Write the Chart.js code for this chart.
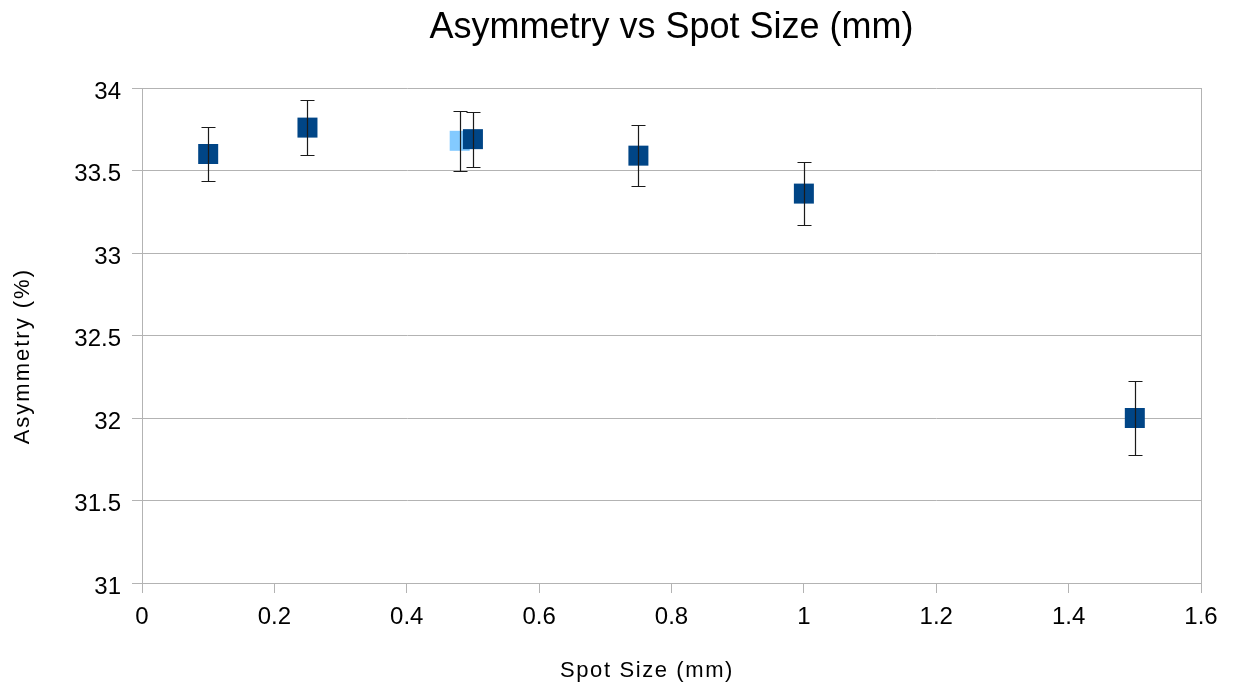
<!DOCTYPE html>
<html>
<head>
<meta charset="utf-8">
<script src="https://cdn.jsdelivr.net/npm/chart.js@4.4.1/dist/chart.umd.min.js"></script>
<style>
html,body{margin:0;padding:0;background:#fff;}
#wrap{width:1237px;height:683px;}
</style>
</head>
<body>
<div id="wrap"><canvas id="c" width="1237" height="683"></canvas></div>
<script>
// ---- data ----
const spotSizes = [0.1, 0.25, 0.5, 0.75, 1.0, 1.5];
const asymmetry = [33.60, 33.76, 33.69, 33.59, 33.36, 32.00];
const asymmetryErr = [0.165, 0.168, 0.167, 0.183, 0.193, 0.224];

const extraSpotSizes = [0.48];
const extraAsymmetry = [33.68];
const extraAsymmetryErr = [0.181];

const xTicks = [0, 0.2, 0.4, 0.6, 0.8, 1.0, 1.2, 1.4, 1.6];
const xTickLabels = ['0', '0.2', '0.4', '0.6', '0.8', '1', '1.2', '1.4', '1.6'];
const yTicks = [31, 31.5, 32, 32.5, 33, 33.5, 34];
const yTickLabels = ['31', '31.5', '32', '32.5', '33', '33.5', '34'];

const chartTitle = 'Asymmetry vs Spot Size (mm)';
const xTitle = 'Spot Size (mm)';
const yTitle = 'Asymmetry (%)';

// ---- build ----
const FONT = "'Liberation Sans', Arial, sans-serif";
const GRID = '#b3b3b3';

function pts(xs, ys, es) {
  return xs.map((x, i) => ({ x: x, y: ys[i], err: es[i] }));
}

const errorBars = {
  id: 'errorBars',
  afterDatasetsDraw(chart) {
    const { ctx, scales: { x, y } } = chart;
    ctx.save();
    ctx.strokeStyle = '#1a1a1a';
    ctx.lineWidth = 1.2;
    chart.data.datasets.forEach(ds => {
      ds.data.forEach(p => {
        const px = Math.round(x.getPixelForValue(p.x)) + 0.5;
        const yt = Math.round(y.getPixelForValue(p.y + p.err)) + 0.5;
        const yb = Math.round(y.getPixelForValue(p.y - p.err)) + 0.5;
        ctx.beginPath();
        ctx.moveTo(px, yt); ctx.lineTo(px, yb);
        ctx.moveTo(px - 7, yt); ctx.lineTo(px + 7, yt);
        ctx.moveTo(px - 7, yb); ctx.lineTo(px + 7, yb);
        ctx.stroke();
      });
    });
    ctx.restore();
  }
};

const axisTitles = {
  id: 'axisTitles',
  afterDraw(chart) {
    const { ctx, chartArea: ca } = chart;
    ctx.save();
    ctx.fillStyle = '#000';
    ctx.font = '22px ' + FONT;
    ctx.textAlign = 'center';
    ctx.textBaseline = 'middle';
    try { ctx.letterSpacing = '1.6px'; } catch (e) {}
    ctx.fillText(xTitle, (ca.left + ca.right) / 2 - 24.5, ca.bottom + 87.5);
    try { ctx.letterSpacing = '2px'; } catch (e) {}
    ctx.translate(23, (ca.top + ca.bottom) / 2 + 20.7);
    ctx.rotate(-Math.PI / 2);
    ctx.fillText(yTitle, 0, 0);
    ctx.restore();
  }
};

Chart.defaults.font.family = FONT;
Chart.defaults.color = '#000';

new Chart(document.getElementById('c'), {
  type: 'scatter',
  data: {
    datasets: [
      {
        label: 'Asymmetry',
        data: pts(spotSizes, asymmetry, asymmetryErr),
        pointStyle: 'rect',
        pointRadius: 14.14,
        pointHoverRadius: 14.14,
        backgroundColor: '#004586',
        borderColor: '#004586',
        borderWidth: 0
      },
      {
        label: 'Asymmetry (2)',
        data: pts(extraSpotSizes, extraAsymmetry, extraAsymmetryErr),
        pointStyle: 'rect',
        pointRadius: 14.14,
        pointHoverRadius: 14.14,
        backgroundColor: '#83caff',
        borderColor: '#83caff',
        borderWidth: 0
      }
    ]
  },
  options: {
    responsive: false,
    animation: false,
    devicePixelRatio: 1,
    layout: { padding: { left: 0, right: 36, top: 0, bottom: 0 } },
    plugins: {
      legend: { display: false },
      tooltip: { enabled: false },
      title: {
        display: true,
        text: chartTitle,
        fullSize: false,
        color: '#000',
        font: { size: 36, weight: 'normal', family: FONT, lineHeight: 1 },
        padding: { top: 10.5, bottom: 41.5 }
      }
    },
    scales: {
      x: {
        type: 'linear',
        min: 0,
        max: 1.6,
        afterBuildTicks: s => { s.ticks = xTicks.map(v => ({ value: v })); },
        afterFit: s => { s.height = 100; },
        ticks: {
          callback: (v, i) => xTickLabels[i],
          font: { size: 24, family: FONT },
          color: '#000',
          padding: 10,
          maxRotation: 0,
          autoSkip: false
        },
        grid: {
          drawOnChartArea: true,
          color: c => (c.tick && (Math.abs(c.tick.value - 1.6) < 1e-9 || Math.abs(c.tick.value) < 1e-9)) ? GRID : 'rgba(0,0,0,0)',
          tickColor: GRID,
          tickLength: 10,
          lineWidth: 1
        },
        border: { display: true, color: GRID, width: 1 },
        title: { display: false }
      },
      y: {
        type: 'linear',
        min: 31,
        max: 34,
        afterBuildTicks: s => { s.ticks = yTicks.map(v => ({ value: v })); },
        afterFit: s => { s.width = 142; },
        ticks: {
          callback: (v, i) => yTickLabels[i],
          font: { size: 24, family: FONT },
          color: '#000',
          padding: 11,
          labelOffset: 4,
          autoSkip: false
        },
        grid: {
          color: GRID,
          tickColor: GRID,
          tickLength: 10,
          lineWidth: 1
        },
        border: { display: true, color: GRID, width: 1 },
        title: { display: false }
      }
    }
  },
  plugins: [errorBars, axisTitles]
});
</script>
</body>
</html>
